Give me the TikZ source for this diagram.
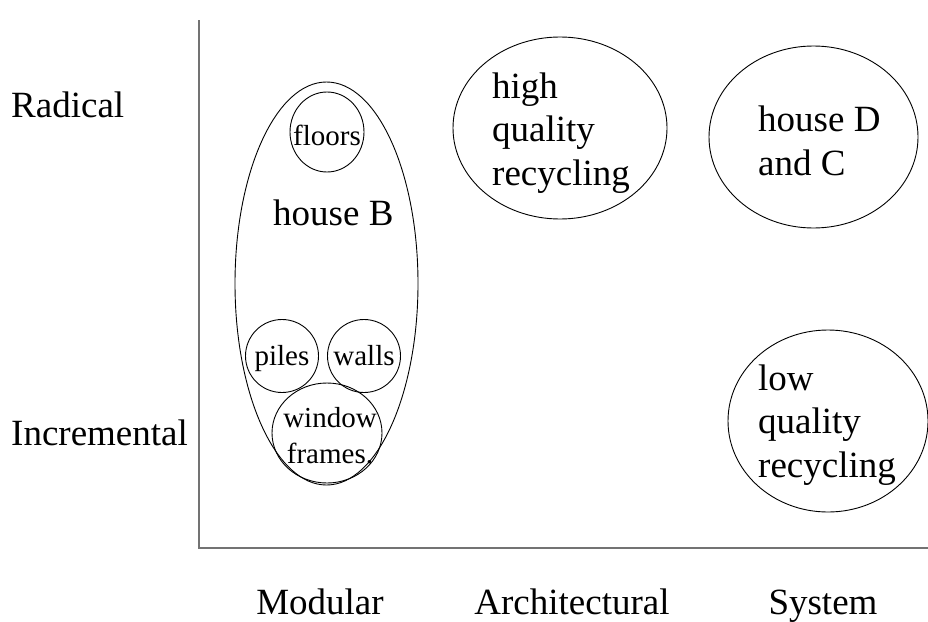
\documentclass[tikz,border=0pt]{standalone}
\usepackage{fontspec}
\setmainfont{Liberation Serif}
\usetikzlibrary{shapes.geometric}
\tikzset{
	blob/.style={draw, ellipse, inner sep=0pt, line width=0.9pt},
	part/.style={draw, circle, inner sep=0pt, line width=0.9pt},
	big/.style={font=\fontsize{37}{43.5}\selectfont, inner sep=0pt},
	small/.style={font=\fontsize{29}{36}\selectfont, inner sep=0pt},
	axis/.style={line width=2pt, black!55}
}
\begin{document}
\begin{tikzpicture}[x=1pt, y=-1pt]
	\useasboundingbox (0,0) rectangle (928,621);
	% axes
	\coordinate (top) at (199,20);
	\coordinate (origin) at (199,548);
	\coordinate (end) at (928,548);
	\draw[axis] (top) -- (origin) -- (end);
	\node[big, anchor=base west] (radical) at (11,117) {Radical};
	\node[big, anchor=base west] (incremental) at (11,445) {Incremental};
	\node[big, anchor=base] (modular) at (320,614) {Modular};
	\node[big, anchor=base] (architectural) at (572,614) {Architectural};
	\node[big, anchor=base] (system) at (823,614) {System};
	% house B and its parts
	\node[blob, minimum width=183pt, minimum height=403pt] (houseB) at (326.5,283.5) {};
	\node[blob, minimum width=74pt, minimum height=80pt] (floors) at (327,132) {};
	\node[part, minimum size=73pt] (piles) at (282,356) {};
	\node[part, minimum size=73pt] (walls) at (364,356) {};
	\node[blob, minimum width=110pt, minimum height=100pt] (window) at (327,433) {};
	\node[big, anchor=base west] (houseBlabel) at (273,225) {house B};
	\node[small, anchor=base] (floorslabel) at (floors.center |- 0,145) {floors};
	\node[small, anchor=base] (pileslabel) at (piles.center |- 0,365) {piles};
	\node[small, anchor=base] (wallslabel) at (walls.center |- 0,365) {walls};
	\node[small, anchor=base, align=center] (windowlabel) at (330,463) {window\\frames.};
	% other innovations
	\node[blob, minimum width=214pt, minimum height=182pt] (hiqual) at (560,128) {};
	\node[blob, minimum width=209pt, minimum height=182pt] (houseDC) at (813.5,137) {};
	\node[blob, minimum width=200pt, minimum height=182pt] (loqual) at (828,421) {};
	\node[big, anchor=base west, align=left] (hiquallabel) at (492,185) {high\\quality\\recycling};
	\node[big, anchor=base west, align=left] (houseDClabel) at (758,175) {house D\\and C};
	\node[big, anchor=base west, align=left] (loquallabel) at (758,477) {low\\quality\\recycling};
\end{tikzpicture}
\end{document}
